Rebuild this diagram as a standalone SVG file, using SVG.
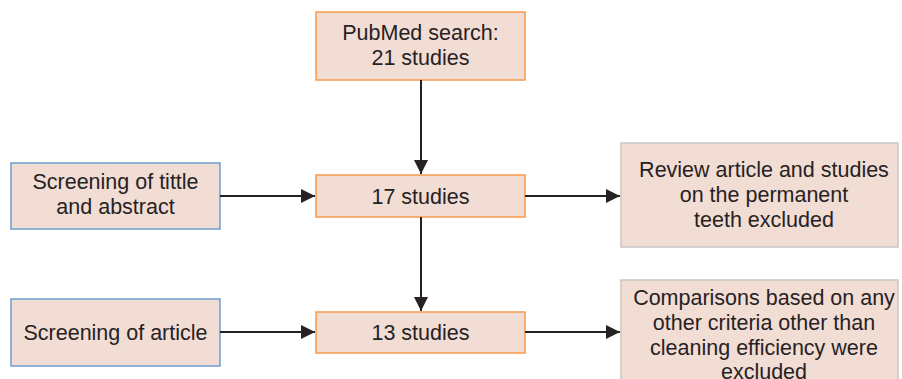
<svg xmlns="http://www.w3.org/2000/svg" width="902" height="379" viewBox="0 0 902 379">
<defs>
<style>
.box{fill:#f2ddd4;stroke-width:1.5}
.o{stroke:#f79a4c}
.b{stroke:#6f9bd0}
.g{stroke:#c9c6c4}
text{font-family:"Liberation Sans",Arial,sans-serif;font-size:21.5px;fill:#262223;text-anchor:middle}
.c line{stroke:#262223;stroke-width:2}
</style>
<marker id="ah" viewBox="0 0 14 14" refX="14" refY="7" markerWidth="14" markerHeight="14" markerUnits="userSpaceOnUse" orient="auto">
<path d="M0,0 L14,7 L0,14 Z" fill="#262223"/>
</marker>
</defs>
<rect width="902" height="379" fill="#ffffff"/>
<g id="pubmed">
<rect class="box o" x="316" y="12" width="209" height="68"/>
<text x="420.5" y="40">PubMed search:</text>
<text x="420.5" y="65">21 studies</text>
</g>
<g id="screen1">
<rect class="box b" x="11" y="163" width="209" height="66"/>
<text x="115.5" y="189">Screening of tittle</text>
<text x="115.5" y="214">and abstract</text>
</g>
<g id="s17">
<rect class="box o" x="316" y="175" width="209" height="42"/>
<text x="420.5" y="203.5">17 studies</text>
</g>
<g id="review">
<rect class="box g" x="621" y="143" width="277" height="104"/>
<text x="764" y="177">Review article and studies</text>
<text x="764" y="202">on the permanent</text>
<text x="764" y="227">teeth excluded</text>
</g>
<g id="screen2">
<rect class="box b" x="11" y="299" width="209" height="67"/>
<text x="115.5" y="340">Screening of article</text>
</g>
<g id="s13">
<rect class="box o" x="316" y="312" width="209" height="41"/>
<text x="420.5" y="340">13 studies</text>
</g>
<g id="comparisons">
<rect class="box g" x="621" y="280" width="277" height="110"/>
<text x="764" y="305">Comparisons based on any</text>
<text x="764" y="330">other criteria other than</text>
<text x="764" y="355">cleaning efficiency were</text>
<text x="764" y="379">excluded</text>
</g>
<g class="c">
<line x1="421" y1="80" x2="421" y2="174" marker-end="url(#ah)"/>
<line x1="421" y1="217" x2="421" y2="311" marker-end="url(#ah)"/>
<line x1="220" y1="196" x2="315" y2="196" marker-end="url(#ah)"/>
<line x1="525" y1="196" x2="620" y2="196" marker-end="url(#ah)"/>
<line x1="220" y1="332" x2="315" y2="332" marker-end="url(#ah)"/>
<line x1="525" y1="332" x2="620" y2="332" marker-end="url(#ah)"/>
</g>
</svg>
